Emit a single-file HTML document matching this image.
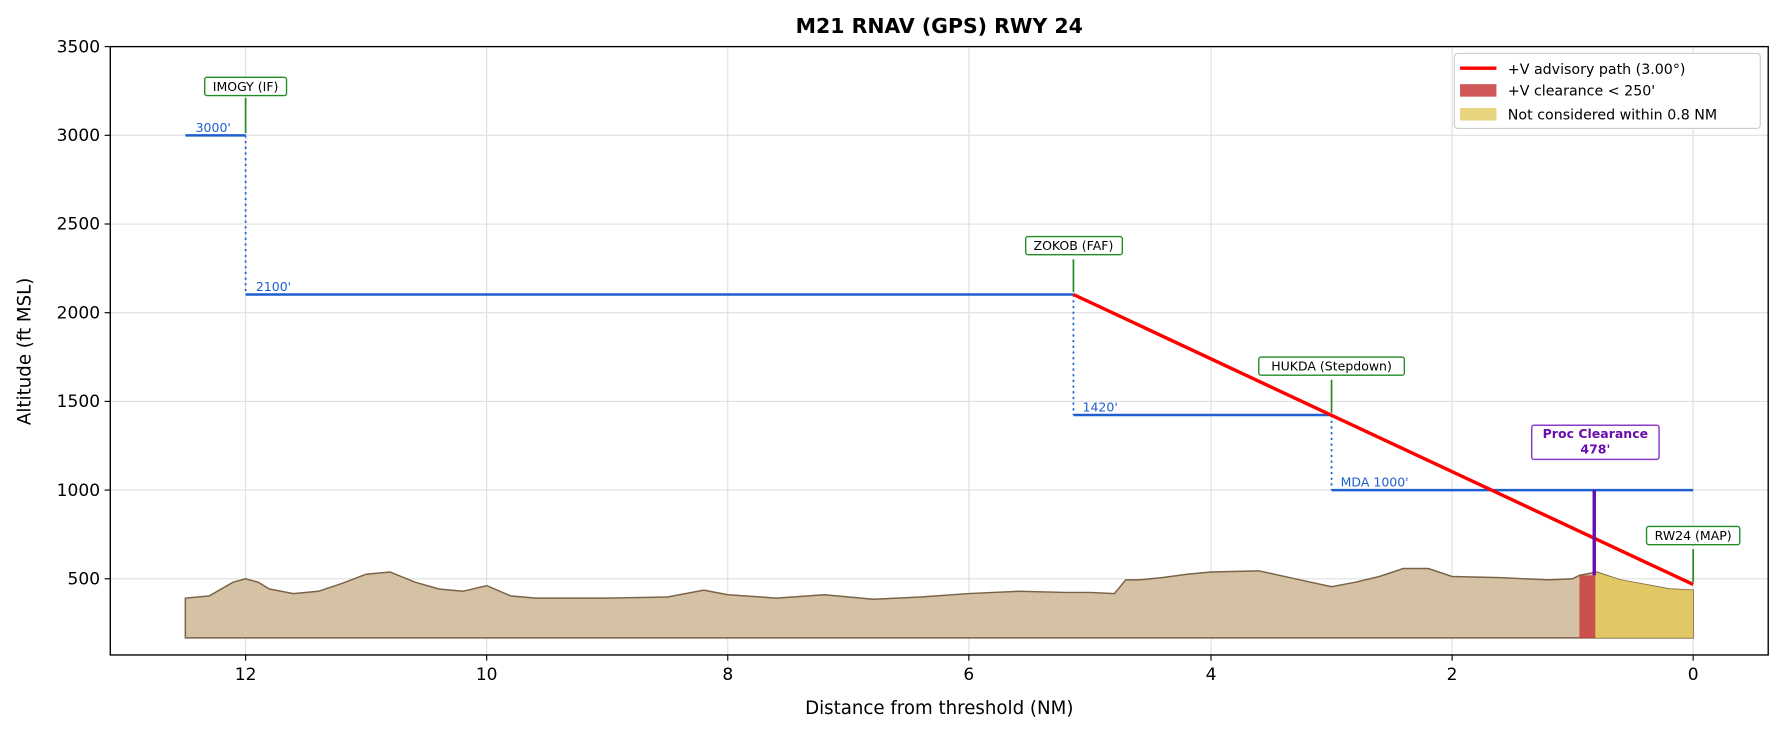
<!DOCTYPE html>
<html><head><meta charset="utf-8"><style>
html,body{margin:0;padding:0;background:#fff;}
svg{display:block;font-family:"DejaVu Sans","Liberation Sans",sans-serif;}
</style></head><body>
<svg width="1783" height="734" viewBox="0 0 1568 645.5" preserveAspectRatio="none" xmlns="http://www.w3.org/2000/svg">
<rect width="1568" height="646" fill="#fff"/>
<g stroke="#e0e0e0" stroke-width="1">
<line x1="216" y1="41" x2="216" y2="576"/><line x1="428" y1="41" x2="428" y2="576"/><line x1="640" y1="41" x2="640" y2="576"/><line x1="852" y1="41" x2="852" y2="576"/><line x1="1065" y1="41" x2="1065" y2="576"/><line x1="1277" y1="41" x2="1277" y2="576"/><line x1="1489" y1="41" x2="1489" y2="576"/>
<line x1="97" y1="119" x2="1555" y2="119"/><line x1="97" y1="197" x2="1555" y2="197"/><line x1="97" y1="275" x2="1555" y2="275"/><line x1="97" y1="353" x2="1555" y2="353"/><line x1="97" y1="431" x2="1555" y2="431"/><line x1="97" y1="509" x2="1555" y2="509"/>
</g>
<polygon fill="#d5c1a3" stroke="#7a6448" stroke-width="1.3" points="163,561 163,526 184,524 205,512 216,509 227,512 237,518 258,522 280,520 301,513 322,505 343,503 365,512 386,518 407,520 428,515 449,524 471,526 534,526 587,525 619,519 640,523 683,526 725,523 768,527 810,525 852,522 895,520 937,521 959,521 980,522 990,510 1001,510 1022,508 1044,505 1065,503 1107,502 1139,509 1171,516 1192,512 1213,507 1234,500 1256,500 1277,507 1319,508 1362,510 1383,509 1389,506 1404,503 1425,510 1468,518 1489,519 1489,561"/>
<rect x="1389" y="506" width="14" height="55" fill="#c83c3c" opacity="0.85"/>
<polygon fill="#e2c95e" opacity="0.9" points="1403,561 1403,503 1425,510 1468,518 1489,519 1489,561"/>
<g stroke="#1f5fcf" stroke-width="2.2">
<line x1="163" y1="119" x2="216" y2="119"/>
<line x1="216" y1="259" x2="944" y2="259"/>
<line x1="944" y1="365" x2="1171" y2="365"/>
<line x1="1171" y1="431" x2="1489" y2="431"/>
</g>
<g stroke="#1f5fcf" stroke-width="1.5" stroke-dasharray="2,3">
<line x1="216" y1="119" x2="216" y2="259"/>
<line x1="944" y1="259" x2="944" y2="365"/>
<line x1="1171" y1="365" x2="1171" y2="431"/>
</g>
<g fill="#1f5fcf" font-size="11">
<text x="172" y="116">3000'</text><text x="225" y="256">2100'</text><text x="952" y="362">1420'</text><text x="1179" y="428">MDA 1000'</text>
</g>
<line x1="944" y1="259" x2="1489" y2="514" stroke="#ff0000" stroke-width="3"/>
<line x1="1402" y1="431" x2="1402" y2="506" stroke="#6a0dad" stroke-width="3"/>
<g stroke="#228b22" stroke-width="1.5">
<line x1="216" y1="86" x2="216" y2="117"/><line x1="944" y1="228" x2="944" y2="257"/><line x1="1171" y1="334" x2="1171" y2="363"/><line x1="1489" y1="483" x2="1489" y2="512"/>
</g>
<g fill="#fff" stroke="#228b22" stroke-width="1.2">
<rect x="180" y="68" width="72" height="16" rx="2"/><rect x="902" y="208" width="85" height="16" rx="2"/><rect x="1107" y="314" width="128" height="16" rx="2"/><rect x="1448" y="463" width="82" height="16" rx="2"/>
</g>
<g font-size="11" text-anchor="middle" fill="#000">
<text x="216" y="80">IMOGY (IF)</text><text x="944" y="220">ZOKOB (FAF)</text><text x="1171" y="326">HUKDA (Stepdown)</text><text x="1489" y="475">RW24 (MAP)</text>
</g>
<rect x="1347" y="374" width="112" height="30" rx="2" fill="#fff" stroke="#8a3cc8" stroke-width="1.3"/>
<g font-size="11" font-weight="bold" fill="#6a0dad" text-anchor="middle"><text x="1403" y="385">Proc Clearance</text><text x="1403" y="399">478'</text></g>
<rect x="97" y="41" width="1458" height="535" fill="none" stroke="#000" stroke-width="1.2"/>
<g stroke="#000" stroke-width="1">
<line x1="216" y1="576" x2="216" y2="581"/><line x1="428" y1="576" x2="428" y2="581"/><line x1="640" y1="576" x2="640" y2="581"/><line x1="852" y1="576" x2="852" y2="581"/><line x1="1065" y1="576" x2="1065" y2="581"/><line x1="1277" y1="576" x2="1277" y2="581"/><line x1="1489" y1="576" x2="1489" y2="581"/>
<line x1="92" y1="41" x2="97" y2="41"/><line x1="92" y1="119" x2="97" y2="119"/><line x1="92" y1="197" x2="97" y2="197"/><line x1="92" y1="275" x2="97" y2="275"/><line x1="92" y1="353" x2="97" y2="353"/><line x1="92" y1="431" x2="97" y2="431"/><line x1="92" y1="509" x2="97" y2="509"/>
</g>
<g font-size="15" fill="#000" text-anchor="middle">
<text x="216" y="598">12</text><text x="428" y="598">10</text><text x="640" y="598">8</text><text x="852" y="598">6</text><text x="1065" y="598">4</text><text x="1277" y="598">2</text><text x="1489" y="598">0</text>
</g>
<g font-size="15" fill="#000" text-anchor="end">
<text x="88" y="46">3500</text><text x="88" y="124">3000</text><text x="88" y="202">2500</text><text x="88" y="280">2000</text><text x="88" y="358">1500</text><text x="88" y="436">1000</text><text x="88" y="514">500</text>
</g>
<text x="826" y="628" font-size="16" text-anchor="middle">Distance from threshold (NM)</text>
<text transform="translate(27,309) rotate(-90)" font-size="16" text-anchor="middle">Altitude (ft MSL)</text>
<text x="826" y="29" font-size="18" font-weight="bold" text-anchor="middle">M21  RNAV (GPS) RWY 24</text>
<rect x="1279" y="47" width="269" height="66" rx="3" fill="#fff" stroke="#ccc"/>
<line x1="1284" y1="60" x2="1316" y2="60" stroke="#ff0000" stroke-width="3"/>
<rect x="1284" y="74" width="32" height="11" fill="#c83c3c" opacity="0.85"/>
<rect x="1284" y="95" width="32" height="11" fill="#e2c95e" opacity="0.8"/>
<g font-size="12.5" fill="#000"><text x="1326" y="65">+V advisory path (3.00°)</text><text x="1326" y="84">+V clearance &lt; 250'</text><text x="1326" y="105">Not considered within 0.8 NM</text></g>
</svg>
</body></html>
